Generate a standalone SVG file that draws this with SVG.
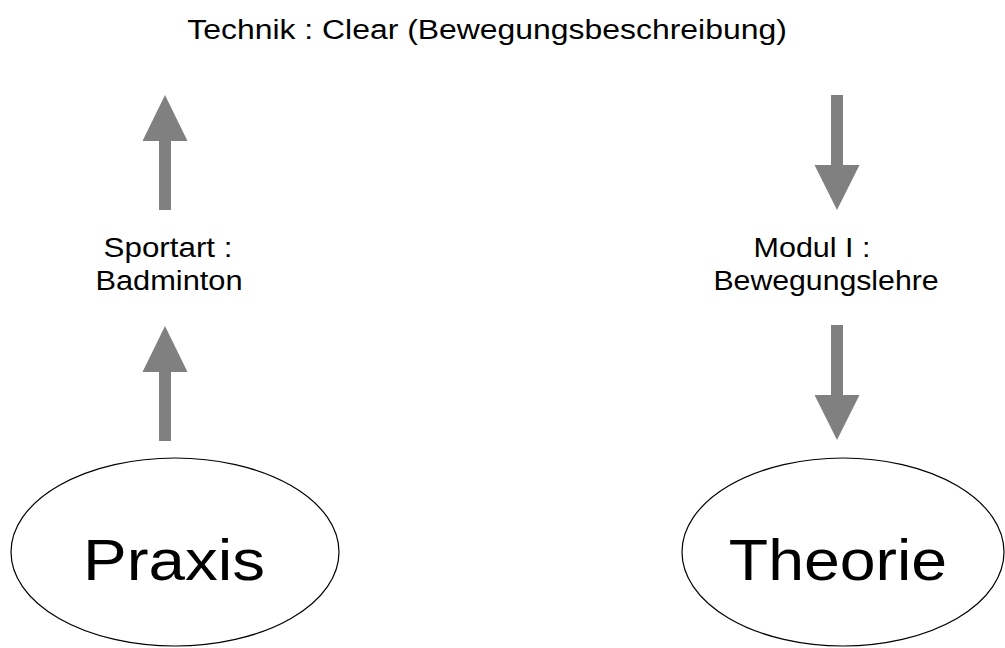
<svg xmlns="http://www.w3.org/2000/svg" width="1005" height="648" viewBox="0 0 1005 648">
<style>
.lbl{font-family:"Liberation Sans",Arial,sans-serif;font-size:28px;fill:#000;text-anchor:middle}
.big{font-family:"Liberation Sans",Arial,sans-serif;font-size:58px;fill:#000;text-anchor:middle}
.ell{fill:#fff;stroke:#000;stroke-width:1.2}
.arr{fill:#808080;stroke:none}
</style>
<rect width="1005" height="648" fill="#fff"/>
<g id="title"><text class="lbl" transform="translate(487,39) scale(1.14,1)">Technik :  Clear (Bewegungsbeschreibung)</text></g>
<g id="connectors">
<polygon class="arr" points="159,210 171,210 171,141 187.5,141 165,95 142.5,141 159,141"/>
<polygon class="arr" points="159,441 171,441 171,372 187.5,372 165,326 142.5,372 159,372"/>
<polygon class="arr" points="831,95 843,95 843,165 859.5,165 837,210 814.5,165 831,165"/>
<polygon class="arr" points="831,325 843,325 843,395 859.5,395 837,440 814.5,395 831,395"/>
</g>
<g id="sportart"><text class="lbl" transform="translate(168,257) scale(1.12,1)">Sportart :</text><text class="lbl" transform="translate(169,290) scale(1.1,1)">Badminton</text></g>
<g id="modul"><text class="lbl" transform="translate(812,257) scale(1.09,1)">Modul I :</text><text class="lbl" transform="translate(826,290) scale(1.08,1)">Bewegungslehre</text></g>
<g id="praxis"><ellipse class="ell" cx="175" cy="552" rx="164" ry="94"/><text class="big" transform="translate(174,580) scale(1.13,1)">Praxis</text></g>
<g id="theorie"><ellipse class="ell" cx="843" cy="552" rx="161" ry="94"/><text class="big" transform="translate(838,580) scale(1.11,1)">Theorie</text></g>
</svg>
